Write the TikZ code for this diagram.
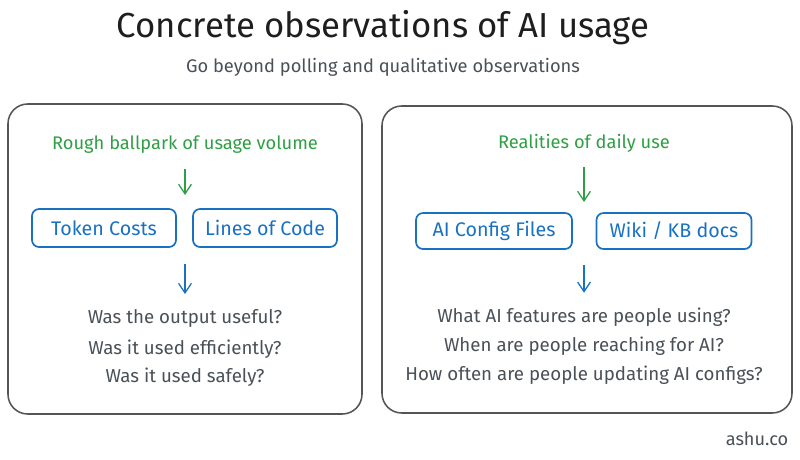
\documentclass[tikz,border=0pt]{standalone}
\usepackage{fontspec}
\setmainfont{Fira Sans}
\usetikzlibrary{arrows.meta,positioning}
\definecolor{sketchgreen}{RGB}{47,158,68}
\definecolor{sketchblue}{RGB}{25,113,194}
\definecolor{panelgray}{RGB}{85,85,85}
\definecolor{inkgray}{RGB}{73,80,87}
\definecolor{inkblack}{RGB}{30,30,30}

\begin{document}
\begin{tikzpicture}[
  panel/.style={draw=panelgray, line width=1.1pt, rounded corners=14pt},
  metric/.style={draw=sketchblue, line width=1.2pt, rounded corners=5pt,
                 minimum height=0.95cm, text=sketchblue,
                 font=\fontsize{14}{16}\selectfont},
  head/.style={text=sketchgreen, font=\fontsize{13}{15}\selectfont},
  question/.style={text=inkgray, font=\fontsize{13.3}{15}\selectfont},
  arr/.style={-{Straight Barb[length=2.4mm, width=3.2mm]}, line width=0.9pt}
]
\useasboundingbox (0,0) rectangle (20,11.475);

\node[text=inkblack, font=\fontsize{24.7}{28}\selectfont] (title) at (9.575,10.775)
     {Concrete observations of AI usage};
\node[text=inkgray, font=\fontsize{13}{15}\selectfont] (sub) at (9.575,9.8)
     {Go beyond polling and qualitative observations};

\draw[panel] (0.2,1.125) rectangle (9.05,8.875);
\draw[panel] (9.55,1.15) rectangle (19.8,8.825);

% left panel
\node[head] (hl) at (4.625,7.85) {Rough ballpark of usage volume};
\coordinate (gl) at (4.625,6.6);
\node[metric, minimum width=3.6cm] (tok) at (2.6,5.775) {Token Costs};
\node[metric, minimum width=3.6cm] (loc) at (6.625,5.775) {Lines of Code};
\coordinate (bl) at (4.625,4.875);
\node[question] (ql1) at (4.625,3.525) {Was the output useful?};
\node[question] (ql2) at (4.625,2.75) {Was it used efficiently?};
\node[question] (ql3) at (4.625,2.05) {Was it used safely?};

\draw[arr, sketchgreen, shorten <=0.25cm] (hl) -- (gl);
\draw[arr, sketchblue, shorten >=0.25cm] (bl) -- (ql1);

% right panel
\node[head] (hr) at (14.6,7.9) {Realities of daily use};
\coordinate (gr) at (14.6,6.425);
\node[metric, minimum width=3.9cm, minimum height=0.9cm] (cfg) at (12.35,5.7) {AI Config Files};
\node[metric, minimum width=3.875cm, minimum height=0.9cm] (wiki) at (16.85,5.7) {Wiki / KB docs};
\coordinate (br) at (14.6,4.85);
\node[question] (qr1) at (14.6,3.55) {What AI features are people using?};
\node[question] (qr2) at (14.6,2.825) {When are people reaching for AI?};
\node[question] (qr3) at (14.6,2.1) {How often are people updating AI configs?};

\draw[arr, sketchgreen, shorten <=0.25cm] (hr) -- (gr);
\draw[arr, sketchblue, shorten >=0.25cm] (br) -- (qr1);

\node[text=inkgray, font=\fontsize{12.9}{15}\selectfont] (sign) at (18.925,0.5) {ashu.co};
\end{tikzpicture}
\end{document}
